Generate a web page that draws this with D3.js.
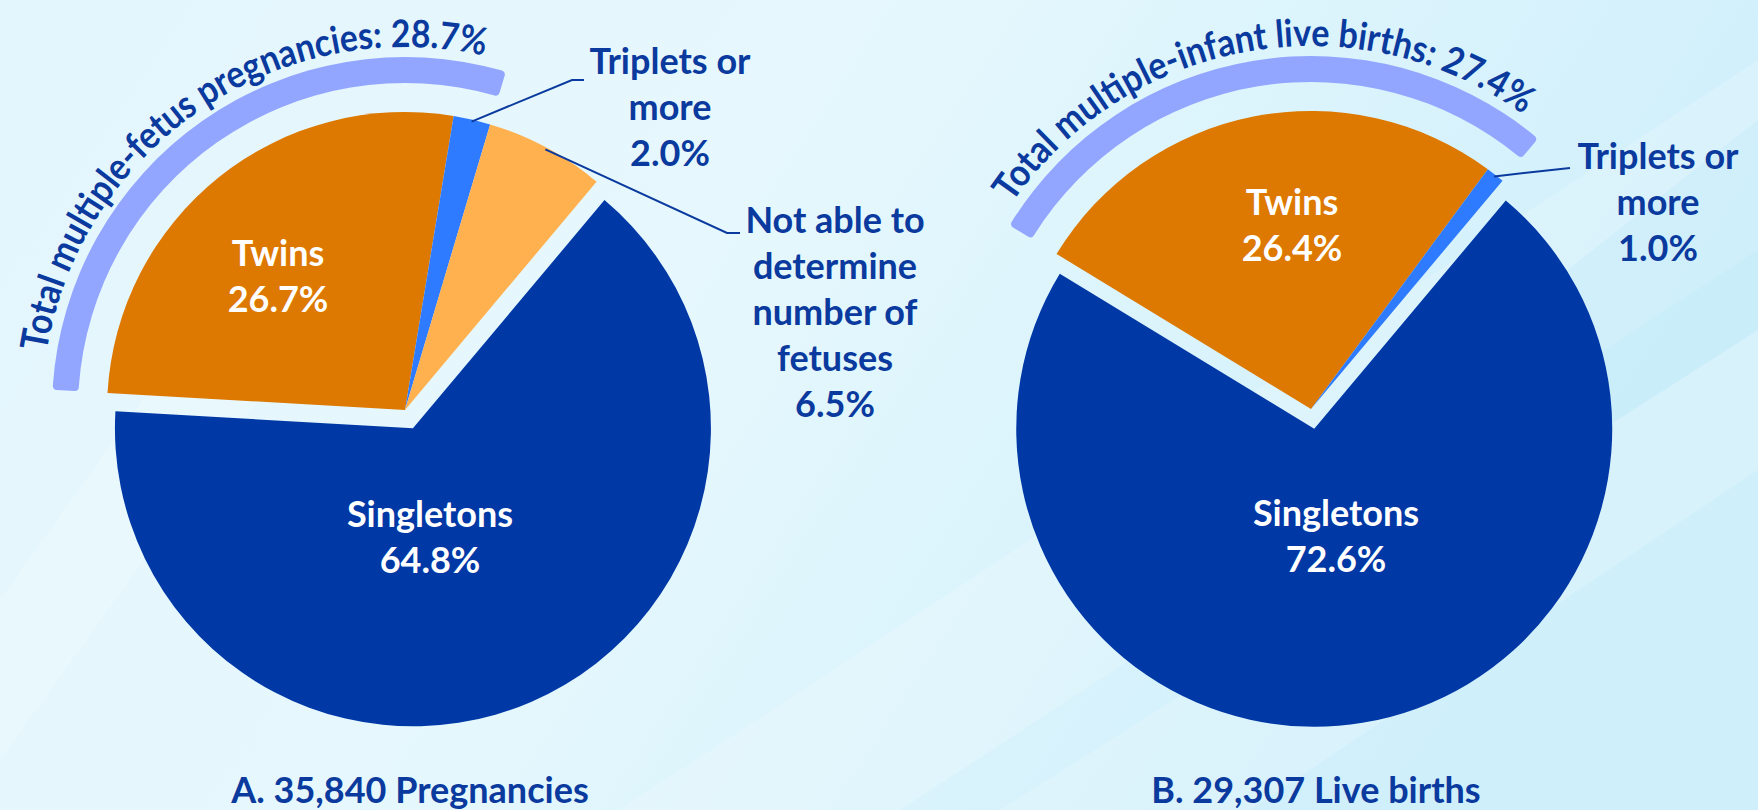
<!DOCTYPE html>
<html>
<head>
<meta charset="utf-8">
<script src="https://cdn.jsdelivr.net/npm/d3@7"></script>
<style>
  html, body { margin: 0; padding: 0; overflow: hidden; }
  svg { display: block; }
</style>
</head>
<body>
<svg id="chart" width="1758" height="810"></svg>
<script>
// ---- data ----
const pregnancyCategories = ["Singletons", "Twins", "Triplets or more", "Not able to determine number of fetuses"];
const pregnancyValues = [64.8, 26.7, 2.0, 6.5];
const pregnancyLabels = [["Singletons", "64.8%"], ["Twins", "26.7%"], ["Triplets or", "more", "2.0%"], ["Not able to", "determine", "number of", "fetuses", "6.5%"]];

const birthCategories = ["Singletons", "Twins", "Triplets or more"];
const birthValues = [72.6, 26.4, 1.0];
const birthLabels = [["Singletons", "72.6%"], ["Twins", "26.4%"], ["Triplets or", "more", "1.0%"]];

const panelTitles = ["A. 35,840 Pregnancies", "B. 29,307 Live births"];
const bandTitles = ["Total multiple-fetus pregnancies: 28.7%", "Total multiple-infant live births: 27.4%"];

const color = d3.scaleOrdinal()
    .domain(pregnancyCategories)
    .range(["#0038a6", "#dd7800", "#2f7bff", "#ffb04f"]);

const textBlue = "#0a3a9e";
const font = "Lato, 'Liberation Sans', sans-serif";
const W = 1758, H = 810;
const R = 298;
const deg = Math.PI / 180;

const svg = d3.select("#chart");

// ---- background ----
const defs = svg.append("defs");
const bg = defs.append("linearGradient").attr("id", "bg")
    .attr("x1", "0").attr("y1", "0").attr("x2", "1").attr("y2", "0.3");
bg.append("stop").attr("offset", "0").attr("stop-color", "#e4f6fd");
bg.append("stop").attr("offset", "0.45").attr("stop-color", "#e6f8fd");
bg.append("stop").attr("offset", "1").attr("stop-color", "#cfeffb");
svg.append("rect").attr("width", W).attr("height", H).attr("fill", "url(#bg)");

// soft diagonal streaks
const streaks = [
    [[620, 810], [900, 810], [1758, 250], [1758, 60]],
    [[0, 600], [0, 760], [330, 300], [250, 250]],
    [[1000, 810], [1250, 810], [1758, 470], [1758, 330]]
];
svg.append("g").selectAll("path").data(streaks).join("path")
    .attr("d", d => "M" + d.join("L") + "Z")
    .attr("fill", "#ffffff").attr("opacity", 0.18);
svg.append("path")
    .attr("d", "M1758,120L1758,330L1400,560L1250,520Z")
    .attr("fill", "#bfeafa").attr("opacity", 0.35);

// ---- one pie panel ----
const pie = d3.pie().sort(null).value(d => d)
    .startAngle(40 * deg).endAngle(40 * deg + 2 * Math.PI);

function addLines(g, x, y, lines, fill) {
    const t = g.append("text")
        .attr("font-family", font).attr("font-weight", 700)
        .attr("font-size", 36).attr("fill", fill)
        .attr("text-anchor", "middle");
    lines.forEach((s, k) => {
        t.append("tspan").attr("x", x).attr("y", y + k * 46).text(s);
    });
}

function drawPanel(cfg) {
    const arcs = pie(cfg.values);
    const g = svg.append("g").attr("transform", `translate(${cfg.cx},${cfg.cy})`);
    const arc = d3.arc().innerRadius(0).outerRadius(R);

    // slices, singletons pulled out along its bisector
    g.selectAll("path.slice").data(arcs).join("path")
        .attr("class", "slice")
        .attr("fill", (d, i) => color(cfg.categories[i]))
        .attr("transform", (d, i) => {
            if (i !== 0) return null;
            const m = (d.startAngle + d.endAngle) / 2;
            return `translate(${Math.sin(m) * 20},${-Math.cos(m) * 20})`;
        })
        .attr("d", arc);

    // band over the multiple births
    const band = { startAngle: arcs[1].startAngle, endAngle: arcs[2].endAngle };
    g.append("path")
        .attr("d", d3.arc().innerRadius(327).outerRadius(353).cornerRadius(4)(band))
        .attr("fill", "#93a6ff");

    const mid = (band.startAngle + band.endAngle) / 2 + cfg.textShift * deg;
    const p = d3.path();
    p.arc(0, 0, 363, mid - 1.3 - Math.PI / 2, mid + 1.3 - Math.PI / 2);
    defs.append("path").attr("id", "band" + cfg.id).attr("d", p.toString());
    g.append("text")
        .attr("font-family", font).attr("font-weight", 700)
        .attr("font-size", 38).attr("fill", textBlue)
        .append("textPath")
        .attr("href", "#band" + cfg.id)
        .attr("startOffset", "50%")
        .attr("text-anchor", "middle")
        .attr("textLength", cfg.textLen)
        .attr("lengthAdjust", "spacingAndGlyphs")
        .text(cfg.bandTitle);

    // inside labels
    addLines(g, 25, 99 + 18, cfg.labels[0], "#ffffff");
    addLines(g, cfg.twins[0], cfg.twins[1], cfg.labels[1], "#ffffff");

    // outside labels with leader lines
    cfg.outside.forEach(o => {
        const a = arcs[o.i];
        const m = (a.startAngle + a.endAngle) / 2;
        const pts = [[Math.sin(m) * (R - 2), -Math.cos(m) * (R - 2)]];
        if (o.elbow) pts.push(o.elbow);
        pts.push(o.end);
        g.append("path")
            .attr("d", d3.line()(pts))
            .attr("fill", "none").attr("stroke", textBlue).attr("stroke-width", 2);
        addLines(g, o.x, o.y, cfg.labels[o.i], textBlue);
    });

    // panel title
    g.append("text")
        .attr("x", 5).attr("y", 803 - cfg.cy)
        .attr("font-family", font).attr("font-weight", 700)
        .attr("font-size", 36).attr("fill", textBlue)
        .attr("text-anchor", "middle")
        .text(cfg.title);
}

drawPanel({
    id: "A", cx: 405, cy: 410,
    categories: pregnancyCategories, values: pregnancyValues, labels: pregnancyLabels,
    title: panelTitles[0], bandTitle: bandTitles[0], textLen: 592, textShift: 1,
    twins: [-127, -144],
    outside: [
        { i: 2, x: 265, y: -336, elbow: [167, -330], end: [179, -330] },
        { i: 3, x: 430, y: -177, elbow: [322, -177], end: [335, -177] }
    ]
});

drawPanel({
    id: "B", cx: 1311, cy: 409,
    categories: birthCategories, values: birthValues, labels: birthLabels,
    title: panelTitles[1], bandTitle: bandTitles[1], textLen: 578, textShift: -0.5,
    twins: [-19, -194],
    outside: [
        { i: 2, x: 347, y: -240, elbow: null, end: [259, -241] }
    ]
});
</script>
</body>
</html>
